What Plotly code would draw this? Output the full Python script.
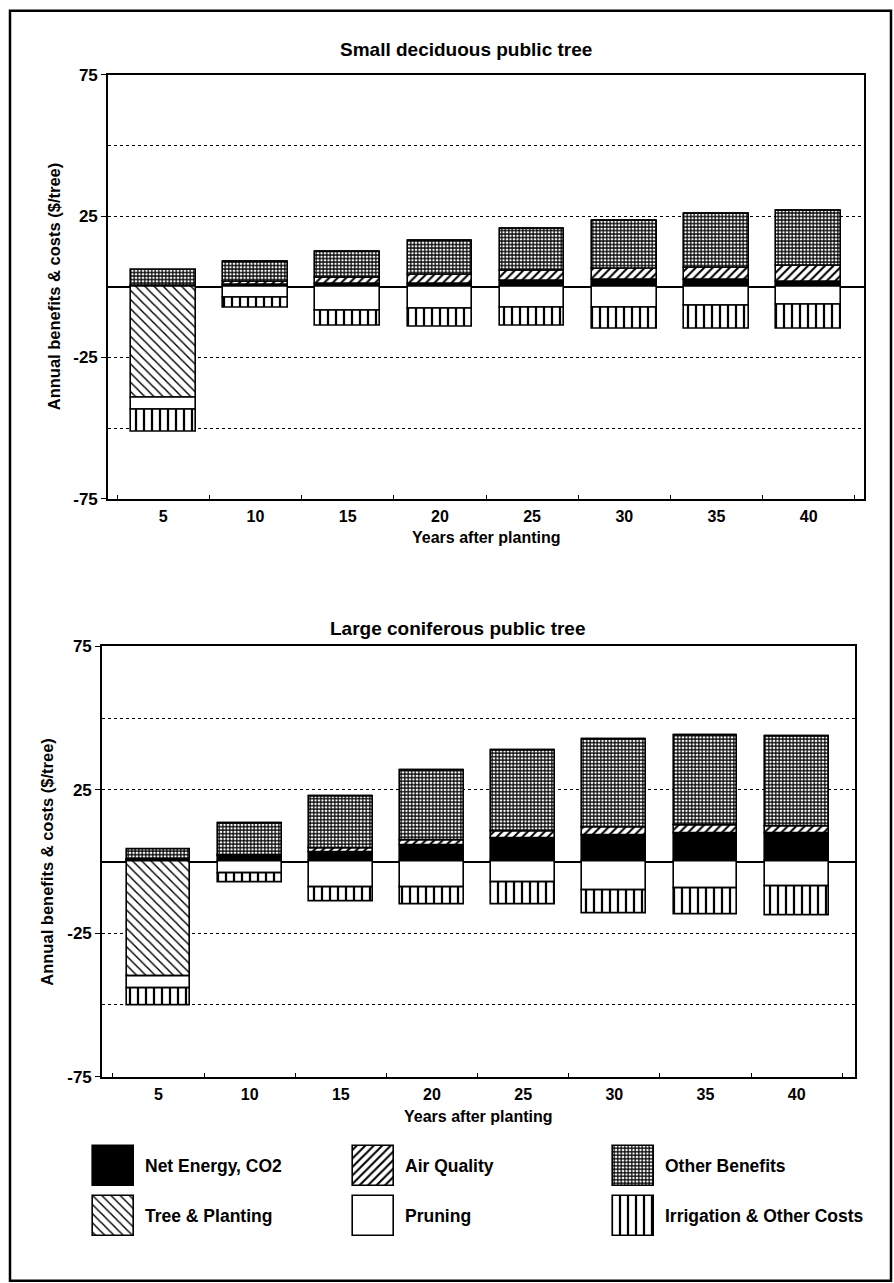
import plotly.graph_objects as go

# ---------------- data ----------------
years = ["5", "10", "15", "20", "25", "30", "35", "40"]

# Small deciduous public tree
energy_s = [0.3, 0.7, 1.0, 1.2, 2.1, 2.4, 2.5, 1.8]
aq_s = [0.2, 1.2, 2.1, 3.0, 3.5, 4.0, 4.3, 5.6]
other_s = [5.5, 6.9, 9.4, 12.1, 15.0, 16.8, 19.0, 19.6]
tree_s = [-39.3, 0, 0, 0, 0, 0, 0, 0]
pruning_s = [-4.3, -3.8, -8.5, -7.9, -7.3, -7.3, -6.9, -6.4]
irrig_s = [-7.6, -3.7, -5.3, -6.1, -6.6, -7.4, -8.0, -8.5]

# Large coniferous public tree
energy_l = [0.5, 1.7, 3.3, 5.6, 8.1, 9.1, 9.9, 9.9]
aq_l = [0.3, 0.3, 1.2, 1.9, 2.3, 2.9, 2.6, 2.4]
other_l = [3.5, 11.4, 18.2, 24.1, 28.3, 30.7, 31.6, 31.4]
tree_l = [-39.9, 0, 0, 0, 0, 0, 0, 0]
pruning_l = [-4.4, -4.1, -9.1, -9.0, -7.4, -10.1, -9.2, -8.7]
irrig_l = [-6.0, -3.1, -4.9, -6.1, -7.7, -7.9, -9.4, -10.1]

titles = ["Small deciduous public tree", "Large coniferous public tree"]
x_title = "Years after planting"
y_title = "Annual benefits & costs ($/tree)"
y_ticks = [-75, -25, 25, 75]
y_ticktext = ["-75", "-25", "25", "75"]
y_minor = [-50, 50]

series_names = ["Net Energy, CO2", "Air Quality", "Other Benefits",
                "Tree & Planting", "Pruning", "Irrigation & Other Costs"]
legend_col = [0, 1, 2, 0, 1, 2]
legend_row = [0, 0, 0, 1, 1, 1]

# ---------------- layout helpers ----------------
W, H = 894, 1300
A, S = 8.2, 0.9855   # measured page offset / vertical scale of the photograph
FONT = "Arial, Liberation Sans, Helvetica, sans-serif"

def px(x):
    return x / W

def ly(y):
    return (y - A) / S

def py(y):
    return 1 - ly(y) / H

styles = [
    dict(color="black"),
    dict(color="white", pattern=dict(shape="/", fgcolor="black", bgcolor="white",
                                     size=6, solidity=0.35, fillmode="replace")),
    dict(color="white", pattern=dict(shape="+", fgcolor="black", bgcolor="white",
                                     size=3.5, solidity=0.58, fillmode="replace")),
    dict(color="white", pattern=dict(shape="\\", fgcolor="black", bgcolor="white",
                                     size=6.5, solidity=0.22, fillmode="replace")),
    dict(color="white"),
    dict(color="white", pattern=dict(shape="|", fgcolor="black", bgcolor="white",
                                     size=8, solidity=0.28, fillmode="replace")),
]

fig = go.Figure()

datasets = [
    [energy_s, aq_s, other_s, tree_s, pruning_s, irrig_s],
    [energy_l, aq_l, other_l, tree_l, pruning_l, irrig_l],
]
for k, ds in enumerate(datasets):
    xa = "x" if k == 0 else "x2"
    ya = "y" if k == 0 else "y2"
    for name, vals, st in zip(series_names, ds, styles):
        fig.add_trace(go.Bar(
            x=years, y=vals, name=name, xaxis=xa, yaxis=ya,
            width=0.7, showlegend=False,
            marker=dict(**st, line=dict(color="black", width=1.6)),
            hoverinfo="skip",
        ))

# legend swatches (own axes: 260 px per column, 50 px per row)
for name, c, r, st in zip(series_names, legend_col, legend_row, styles):
    fig.add_trace(go.Bar(
        x=[c], y=[0.8], base=[r - 0.4], xaxis="x3", yaxis="y3",
        width=41 / 260, showlegend=False,
        marker=dict(**st, line=dict(color="black", width=1.6)),
        hoverinfo="skip",
    ))

ppu = 50 / S
row0 = ly(1165)
y3_top = -row0 / ppu
y3_bot = y3_top + H / ppu

axis_common = dict(showline=True, linecolor="black", linewidth=1.6, mirror=True)
xcommon = dict(**axis_common, type="category", ticks="inside", ticklen=4,
               tickcolor="black", tickson="boundaries", ticklabelstandoff=2,
               tickfont=dict(family=FONT, size=16, color="black", weight="bold"),
               showgrid=False)
ycommon = dict(**axis_common, range=[-75, 75], tickvals=y_ticks, ticktext=y_ticktext,
               tickmode="array",
               ticks="outside", ticklen=5, tickcolor="black",
               tickfont=dict(family=FONT, size=17, color="black", weight="bold"),
               showgrid=True, gridcolor="black", griddash="dot", gridwidth=1,
               zeroline=True, zerolinecolor="black", zerolinewidth=1.6,
               minor=dict(tickvals=y_minor, showgrid=True, gridcolor="black",
                          griddash="dot", gridwidth=1, ticks=""))

fig.update_layout(
    width=W, height=H, autosize=False,
    margin=dict(l=0, r=0, t=0, b=0, pad=0),
    paper_bgcolor="white", plot_bgcolor="rgba(0,0,0,0)",
    barmode="relative", bargap=0,
    xaxis=dict(**xcommon, domain=[px(108), px(864)], range=[-0.6, 7.6], anchor="y"),
    yaxis=dict(**ycommon, domain=[py(498), py(74)], anchor="x"),
    xaxis2=dict(**xcommon, domain=[px(102), px(855)], range=[-0.62, 7.64], anchor="y2"),
    yaxis2=dict(**ycommon, domain=[py(1076), py(645.7)], anchor="x2"),
    xaxis3=dict(domain=[0, 1], range=[-113.5 / 260, (W - 113.5) / 260], visible=False,
                anchor="y3"),
    yaxis3=dict(domain=[0, 1], range=[y3_bot, y3_top], visible=False, anchor="x3"),
    font=dict(family=FONT, color="black"),
)

ann = []
def label(text, x, y, size, angle=0, xanchor="center"):
    ann.append(dict(text=text, x=px(x), y=py(y), xref="paper", yref="paper",
                    showarrow=False, textangle=angle, xanchor=xanchor, yanchor="middle",
                    font=dict(family=FONT, size=size, color="black", weight="bold")))

label(titles[0], 466, 49, 19)
label(titles[1], 458, 628, 19)
label(x_title, 486, 537, 16)
label(x_title, 478, 1116, 16)
label(y_title, 53.5, 286, 16.5, angle=-90)
label(y_title, 47, 861, 16.5, angle=-90)

for name, c, r in zip(series_names, legend_col, legend_row):
    ann.append(dict(text=name, x=c + (143 - 113.5) / 260, y=r, xref="x3", yref="y3",
                    showarrow=False, xanchor="left", yanchor="middle",
                    font=dict(family=FONT, size=17.5, color="black", weight="bold")))

fig.update_layout(annotations=ann)

fig.add_shape(type="rect", xref="paper", yref="paper",
              x0=px(10), x1=px(891), y0=py(1280), y1=py(10),
              line=dict(color="black", width=2.5))

fig.write_html("out.html", config={"displayModeBar": False},
               post_script="document.body.style.margin='0';")
